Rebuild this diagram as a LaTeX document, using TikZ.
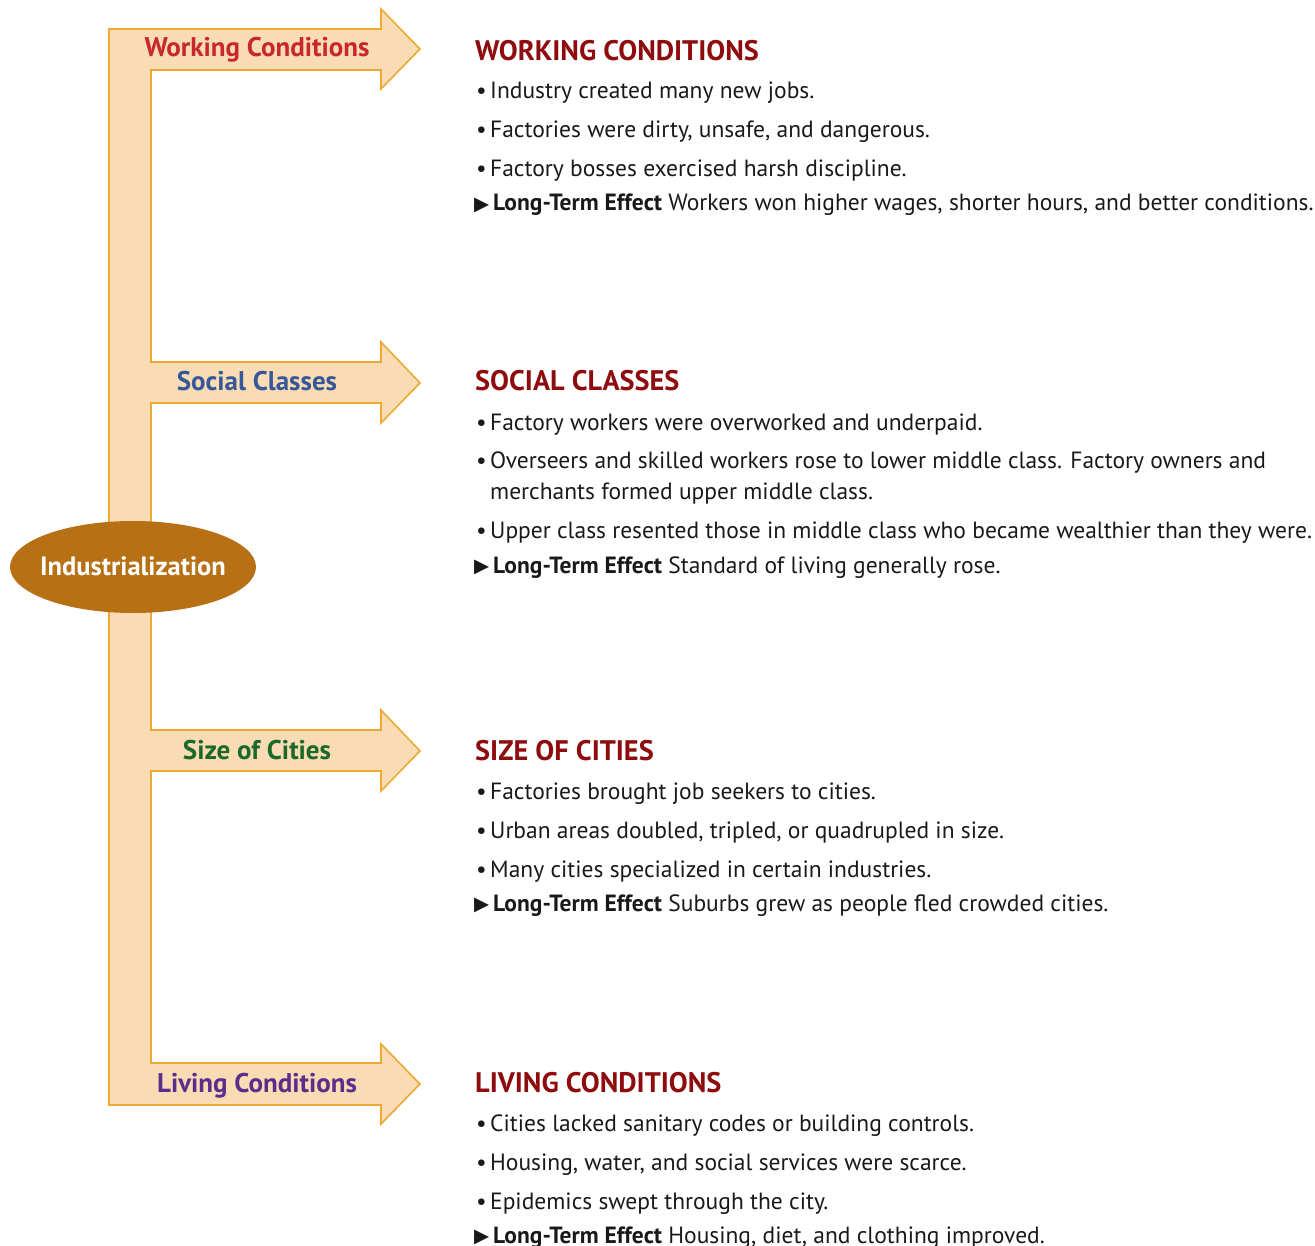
\documentclass[tikz,border=0pt]{standalone}
\usepackage{fontspec}
\usetikzlibrary{shapes.geometric}
\setmainfont{PT Sans}
\newfontfamily\symfont{DejaVu Sans}
\definecolor{arrowfill}{RGB}{249,220,180}
\definecolor{arrowline}{RGB}{238,168,52}
\definecolor{ellfill}{RGB}{184,112,20}
\definecolor{headred}{RGB}{142,12,14}
\definecolor{wcred}{RGB}{200,40,45}
\definecolor{scblue}{RGB}{55,88,152}
\definecolor{cgreen}{RGB}{28,104,42}
\definecolor{lpurple}{RGB}{92,46,140}
\definecolor{bodytext}{RGB}{25,25,25}
\newcommand{\bul}{\makebox[14pt][l]{•}}
\newcommand{\lte}{\makebox[19pt][l]{\raisebox{0.5pt}{\symfont\fontsize{19.5}{19.5}\selectfont ▶}}\textbf{Long-Term Effect} }
\tikzset{
  heading/.style={anchor=base west, inner sep=0pt, text=headred, font=\fontsize{28.3}{30}\selectfont\bfseries},
  bodyline/.style={anchor=base west, inner sep=0pt, text=bodytext, font=\fontsize{23.5}{31}\selectfont},
  arrowlabel/.style={anchor=base, inner sep=0pt, font=\fontsize{27}{30}\selectfont\bfseries},
}
\begin{document}
\begin{tikzpicture}[x=1pt,y=-1pt]
\useasboundingbox (0,0) rectangle (1315,1246);
% branching arrow outline
\draw[fill=arrowfill, draw=arrowline, line width=1.6pt, line join=miter]
 (109,29) -- (381,29) -- (381,9) -- (420,49) -- (381,89) -- (381,70) -- (151,70)
 -- (151,362) -- (381,362) -- (381,342) -- (420,383) -- (381,423) -- (381,403) -- (151,403)
 -- (151,730) -- (381,730) -- (381,710) -- (420,751) -- (381,791) -- (381,771) -- (151,771)
 -- (151,1063) -- (381,1063) -- (381,1044) -- (420,1084) -- (381,1124) -- (381,1105) -- (109,1105) -- cycle;
% central ellipse
\node[ellipse, fill=ellfill, minimum width=246pt, minimum height=92pt, inner sep=0pt, outer sep=0pt,
  text=white, font=\fontsize{26.5}{30}\selectfont\bfseries] (ind) at (133,567) {\makebox[0pt]{\raisebox{-8.5pt}[0pt][0pt]{Industrialization}}};
% arrow labels
\node[arrowlabel, text=wcred] (lwc) at (257,57) {Working Conditions};
\node[arrowlabel, text=scblue] (lsc) at (257,391) {Social Classes};
\node[arrowlabel, text=cgreen] (lsz) at (257,759) {Size of Cities};
\node[arrowlabel, text=lpurple] (llc) at (257,1092) {Living Conditions};
% section 1
\node[heading] (h1) at (475,61) {WORKING CONDITIONS};
\node[bodyline] (a1) at (476,99) {\bul Industry created many new jobs.};
\node[bodyline] (a2) at (476,138) {\bul Factories were dirty, unsafe, and dangerous.};
\node[bodyline] (a3) at (476,177) {\bul Factory bosses exercised harsh discipline.};
\node[bodyline] (a4) at (474,211) {\lte Workers won higher wages, shorter hours, and better conditions.};
% section 2
\node[heading] (h2) at (475,391) {SOCIAL CLASSES};
\node[bodyline] (b1) at (476,431) {\bul Factory workers were overworked and underpaid.};
\node[bodyline] (b2) at (476,468) {\bul Overseers and skilled workers rose to lower middle class. Factory owners and};
\node[bodyline] (b2b) at (490,499) {merchants formed upper middle class.};
\node[bodyline] (b3) at (476,538) {\bul Upper class resented those in middle class who became wealthier than they were.};
\node[bodyline] (b4) at (474,573) {\lte Standard of living generally rose.};
% section 3
\node[heading] (h3) at (475,760) {SIZE OF CITIES};
\node[bodyline] (c1) at (476,799) {\bul Factories brought job seekers to cities.};
\node[bodyline] (c2) at (476,838) {\bul Urban areas doubled, tripled, or quadrupled in size.};
\node[bodyline] (c3) at (476,877) {\bul Many cities specialized in certain industries.};
\node[bodyline] (c4) at (474,911) {\lte Suburbs grew as people fled crowded cities.};
% section 4
\node[heading] (h4) at (475,1092) {LIVING CONDITIONS};
\node[bodyline] (d1) at (476,1131) {\bul Cities lacked sanitary codes or building controls.};
\node[bodyline] (d2) at (476,1170) {\bul Housing, water, and social services were scarce.};
\node[bodyline] (d3) at (476,1209) {\bul Epidemics swept through the city.};
\node[bodyline] (d4) at (474,1243) {\lte Housing, diet, and clothing improved.};
\end{tikzpicture}
\end{document}
